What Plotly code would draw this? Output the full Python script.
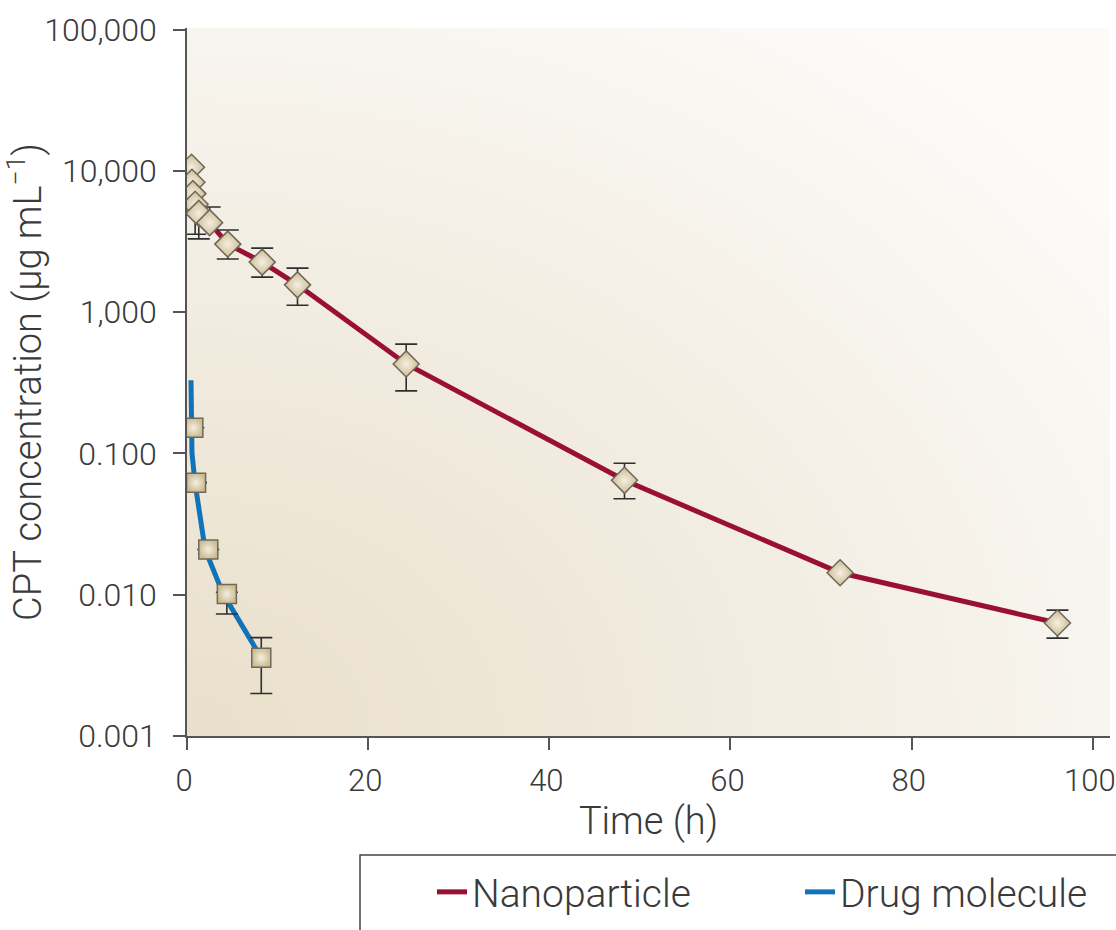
import base64
import plotly.graph_objects as go

# ---------------- data ----------------
np_time = [0.5, 0.55, 0.65, 0.9, 1.3, 2.5, 4.5, 8.3, 12.2, 24.2, 48.3, 72.1, 96.1]
np_conc = [10.6, 8.3, 6.9, 5.8, 5.0, 4.3, 3.03, 2.26, 1.56, 0.43, 0.0645, 0.0143, 0.0063]
np_upper = [None, None, None, 5.9, 5.1, 5.55, 3.81, 2.84, 2.05, 0.594, 0.0851, None, 0.00778]
np_lower = [None, None, None, 3.56, 3.3, 4.2, 2.38, 1.77, 1.12, 0.277, 0.0478, None, 0.00493]

dm_time = [0.7, 1.0, 2.35, 4.4, 8.2]
dm_conc = [0.152, 0.0621, 0.0209, 0.0101, 0.00358]
dm_upper = [None, None, None, 0.0104, 0.00497]
dm_lower = [None, None, None, 0.0073, 0.0020]

dm_fit_time = [0.44, 0.44, 0.55, 0.88, 1.36, 2.0, 4.0, 7.7]
dm_fit_conc = [0.33, 0.152, 0.1007, 0.0621, 0.0398, 0.0209, 0.0101, 0.00405]

y_tickvals = [0.001, 0.01, 0.1, 1, 10, 100]
y_ticktext = ["0.001", "0.010", "0.100", "1,000", "10,000", "100,000"]
x_tickvals = [0, 20, 40, 60, 80, 100]

# ---------------- style ----------------
FONT = "Roboto"
TXT = "#3a3a3a"
NP_COLOR = "#9a0f34"
DM_COLOR = "#1174b8"
MK_FILL = "#cdbd93"
MK_CENTER = "#f5efe1"
MK_EDGE = "#6e685c"
ERR_COLOR = "#2f2f2f"


def plus(vals, ups):
    return [None if u is None else u - v for v, u in zip(vals, ups)]


def minus(vals, los):
    return [None if l is None else v - l for v, l in zip(vals, los)]


fig = go.Figure()

# lines
fig.add_trace(go.Scatter(x=np_time, y=np_conc, mode="lines", name="Nanoparticle",
                         line=dict(color=NP_COLOR, width=5), hoverinfo="skip"))
fig.add_trace(go.Scatter(x=dm_fit_time, y=dm_fit_conc, mode="lines", name="Drug molecule",
                         line=dict(color=DM_COLOR, width=5), hoverinfo="skip"))

# error bars
err_style = dict(type="data", symmetric=False, color=ERR_COLOR, thickness=1.6, width=11)
fig.add_trace(go.Scatter(x=np_time, y=np_conc, mode="markers", showlegend=False,
                         marker=dict(size=1, opacity=0),
                         error_y=dict(array=plus(np_conc, np_upper),
                                      arrayminus=minus(np_conc, np_lower), **err_style)))
fig.add_trace(go.Scatter(x=dm_time, y=dm_conc, mode="markers", showlegend=False,
                         marker=dict(size=1, opacity=0),
                         error_y=dict(array=plus(dm_conc, dm_upper),
                                      arrayminus=minus(dm_conc, dm_lower), **err_style)))

# markers
fig.add_trace(go.Scatter(x=np_time, y=np_conc, mode="markers", showlegend=False,
                         marker=dict(symbol="diamond", size=20, color=MK_FILL,
                                     gradient=dict(type="radial", color=MK_CENTER),
                                     line=dict(color=MK_EDGE, width=1.5))))
fig.add_trace(go.Scatter(x=dm_time, y=dm_conc, mode="markers", showlegend=False,
                         marker=dict(symbol="square", size=19, color=MK_FILL,
                                     gradient=dict(type="radial", color=MK_CENTER),
                                     line=dict(color=MK_EDGE, width=1.5))))

# background gradient as an svg image
svg = ('<svg xmlns="http://www.w3.org/2000/svg" width="200" height="200" viewBox="0 0 200 200" '
       'preserveAspectRatio="none"><defs><radialGradient id="g" cx="0" cy="1" r="1.25">'
       '<stop offset="0" stop-color="#e9dfca"/><stop offset="0.45" stop-color="#f1ebdf"/>'
       '<stop offset="1" stop-color="#fcfbf8"/></radialGradient></defs>'
       '<rect width="200" height="200" fill="url(#g)"/></svg>')
svg_uri = "data:image/svg+xml;base64," + base64.b64encode(svg.encode()).decode()

W, H = 1116, 930
L, R, T, B = 187, 6, 28, 194
pw, ph = W - L - R, H - T - B

fig.update_layout(
    width=W, height=H,
    margin=dict(l=L, r=R, t=T, b=B, pad=0, autoexpand=False),
    paper_bgcolor="white",
    plot_bgcolor="#f3efe5",
    font=dict(family=FONT, color=TXT, size=32, weight=300),
    images=[dict(source=svg_uri, xref="paper", yref="paper", x=0, y=1, sizex=1, sizey=1,
                 xanchor="left", yanchor="top", sizing="stretch", layer="below")],
    xaxis=dict(range=[0, 101.9], tickvals=x_tickvals, showgrid=False, zeroline=False,
               showline=True, linecolor="#555", linewidth=1.5,
               ticks="outside", ticklen=12, tickwidth=1.5, tickcolor="#555",
               tickfont=dict(size=31), ticklabelstandoff=4, ticklabelshift=-3,
               ticklabeloverflow="allow", automargin=False,
               title=dict(text="Time (h)", font=dict(size=38), standoff=6)),
    yaxis=dict(type="log", range=[-3, 2.011], tickvals=y_tickvals, ticktext=y_ticktext,
               showgrid=False, zeroline=False,
               showline=True, linecolor="#555", linewidth=1.5,
               ticks="outside", ticklen=12, tickwidth=1.5, tickcolor="#555",
               tickfont=dict(size=32), ticklabelstandoff=10, automargin=False,
               title=dict(text="CPT concentration (µg mL<sup>−1</sup>)", font=dict(size=38),
                          standoff=6)),
    legend=dict(orientation="h", xref="container", yref="container",
                x=432 / W, xanchor="left",
                y=1 - 860 / H, yanchor="top",
                font=dict(size=39), bgcolor="rgba(0,0,0,0)", borderwidth=0,
                itemwidth=30, entrywidth=323, entrywidthmode="pixels"),
    shapes=[dict(type="rect", xref="paper", yref="paper",
                 x0=(360 - L) / pw, x1=1.2, y0=-0.6, y1=-(855 - (H - B)) / ph,
                 line=dict(color="#444", width=1.5), fillcolor="rgba(0,0,0,0)", layer="above")],
    showlegend=True,
)

fig.write_html("out.html", config={"displayModeBar": False})
